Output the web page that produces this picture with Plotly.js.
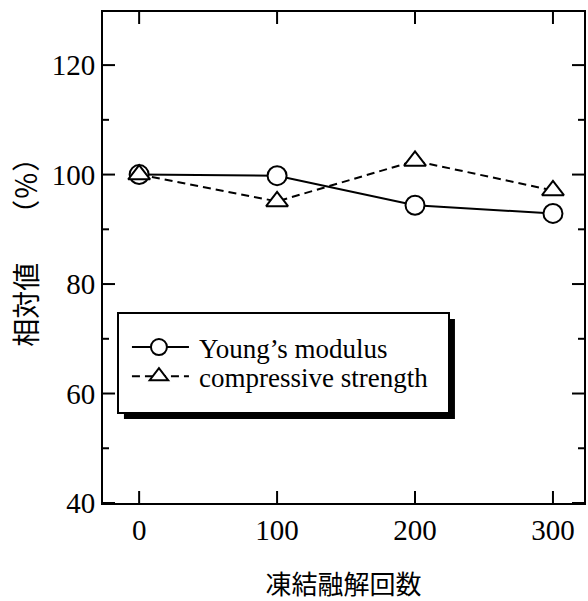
<!DOCTYPE html>
<html>
<head>
<meta charset="utf-8">
<script src="https://cdn.plot.ly/plotly-3.0.1.min.js"></script>
<style>
html,body{margin:0;padding:0;background:#fff;}
#chart{width:588px;height:601px;}
</style>
</head>
<body>
<div id="chart"></div>
<script>
const cycles = [0, 100, 200, 300];
const youngsModulus = [100, 99.8, 94.4, 92.9];
const compressiveStrength = [100, 95.1, 102.5, 97.1];
const seriesNames = ["Young\u2019s modulus", "compressive strength"];
const yTickVals = [40, 60, 80, 100, 120];
const yMinorTickVals = [50, 70, 90, 110];
const xTitle = "凍結融解回数";
const yTitle = "相対値\u3000\u2005（％）";

const serif = "Liberation Serif, Times New Roman, serif";
const cjk = "Noto Sans CJK JP, sans-serif";

const W = 588, H = 601, M = {l: 103, r: 4, t: 12, b: 98};
const xRange = [-26.2, 322.5], yRange = [40, 129.7];
const dxPerPx = (xRange[1] - xRange[0]) / (W - M.l - M.r);
const dyPerPx = (yRange[1] - yRange[0]) / (H - M.t - M.b);

const traces = [
  {
    x: cycles, y: youngsModulus, name: seriesNames[0], type: "scatter", mode: "lines+markers",
    legendgroup: "a",
    line: {color: "#000", width: 2, dash: "solid"},
    marker: {symbol: "circle", size: 19, color: "#fff", line: {color: "#000", width: 2}}
  },
  {
    x: cycles, y: compressiveStrength, name: seriesNames[1], type: "scatter", mode: "lines+markers",
    legendgroup: "b",
    line: {color: "#000", width: 2, dash: "8px,5px"},
    marker: {symbol: "triangle-up", size: 19, color: "#fff", line: {color: "#000", width: 2}}
  }
];

// inside tick marks on all four sides, as a line trace in axis units
const tx = [], ty = [];
cycles.forEach(function(v) {
  const L = 12 * dyPerPx;
  tx.push(v, v, null, v, v, null);
  ty.push(yRange[0], yRange[0] + L, null, yRange[1] - L, yRange[1], null);
});
function yTick(v, px) {
  const L = px * dxPerPx;
  tx.push(xRange[0], xRange[0] + L, null, xRange[1] - L, xRange[1], null);
  ty.push(v, v, null, v, v, null);
}
yTickVals.forEach(function(v) { yTick(v, 12); });
yMinorTickVals.forEach(function(v) { yTick(v, 6); });
traces.push({
  x: tx, y: ty, type: "scatter", mode: "lines", showlegend: false, hoverinfo: "skip",
  connectgaps: false, cliponaxis: false, line: {color: "#000", width: 2}
});

const layout = {
  width: W, height: H,
  margin: M,
  paper_bgcolor: "#fff", plot_bgcolor: "#fff",
  showlegend: true,
  legend: {
    x: 0.029, y: 0.389, xanchor: "left", yanchor: "top",
    bgcolor: "#fff", bordercolor: "#000", borderwidth: 2,
    font: {family: serif, size: 27, color: "#000"},
    itemwidth: 70, tracegroupgap: 0, traceorder: "normal"
  },
  xaxis: {
    range: xRange, tickvals: cycles, ticks: "",
    showline: true, linecolor: "#000", linewidth: 2, mirror: true,
    showgrid: false, zeroline: false,
    tickfont: {family: serif, size: 29, color: "#000"},
    title: {text: xTitle, font: {family: cjk, size: 26, color: "#000"}, standoff: 36}
  },
  yaxis: {
    range: yRange, tickvals: yTickVals, ticks: "",
    showline: true, linecolor: "#000", linewidth: 2, mirror: true,
    showgrid: false, zeroline: false,
    tickfont: {family: serif, size: 29, color: "#000"}
  },
  annotations: [{
    text: yTitle, textangle: -90, showarrow: false,
    xref: "paper", yref: "paper", x: -0.162, y: 0.524, xanchor: "center", yanchor: "middle",
    font: {family: cjk, size: 28, color: "#000"}
  }]
};

const EXTRA_H = 11, EXTRA_W = 14;
function tweakLegend(gd) {
  const leg = gd.querySelector(".legend");
  if (!leg) return;
  leg.querySelectorAll(".traces").forEach(function(t, i) {
    const lines = t.querySelector(".legendlines path");
    if (lines) lines.setAttribute("d", "M13,0h57");
    if (!t.dataset.shifted) {
      const m = /translate\(([-\d.]+)[ ,]+([-\d.]+)\)/.exec(t.getAttribute("transform") || "");
      if (m) {
        const dy = i === 0 ? 9 : 0;
        t.setAttribute("transform", "translate(" + m[1] + "," + (parseFloat(m[2]) + dy) + ")");
        t.dataset.shifted = "1";
      }
    }
  });
  const bg = leg.querySelector("rect.bg");
  if (bg && !bg.dataset.grown) {
    bg.setAttribute("height", parseFloat(bg.getAttribute("height")) + EXTRA_H);
    bg.setAttribute("width", parseFloat(bg.getAttribute("width")) + EXTRA_W);
    bg.dataset.grown = "1";
  }
  gd.querySelectorAll("clipPath").forEach(function(cp) {
    if (/legend/.test(cp.id)) {
      const r = cp.querySelector("rect");
      if (r && !r.dataset.grown) {
        r.setAttribute("height", parseFloat(r.getAttribute("height")) + EXTRA_H);
        r.setAttribute("width", parseFloat(r.getAttribute("width")) + EXTRA_W);
        r.dataset.grown = "1";
      }
    }
  });
}

Plotly.newPlot("chart", traces, layout, {displayModeBar: false, staticPlot: true}).then(function(gd){
  tweakLegend(gd);
  const bg = gd.querySelector(".legend .bg");
  if (!bg) return;
  const r = bg.getBoundingClientRect();
  const c = gd.getBoundingClientRect();
  const s = gd._fullLayout._size;
  const off = 6;
  const toX = px => (px - c.left - s.l) / s.w;
  const toY = py => 1 - (py - c.top - s.t) / s.h;
  return Plotly.relayout(gd, {shapes: [{
    type: "rect", xref: "paper", yref: "paper", layer: "above",
    x0: toX(r.left + off), x1: toX(r.right + off),
    y0: toY(r.bottom + off), y1: toY(r.top + off),
    fillcolor: "#000", line: {width: 0}
  }]}).then(function(){ tweakLegend(gd); });
});
</script>
</body>
</html>
